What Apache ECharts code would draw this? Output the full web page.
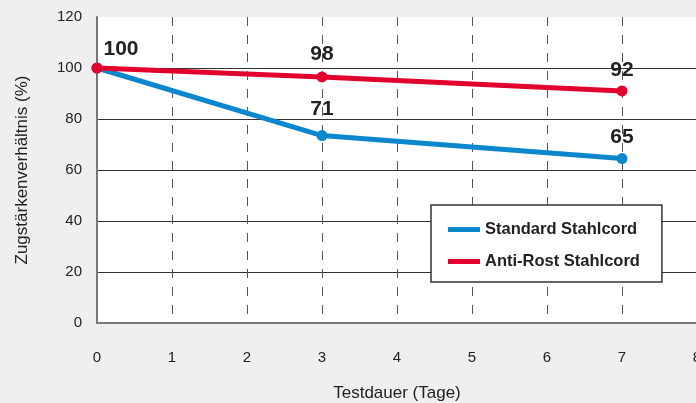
<!DOCTYPE html>
<html>
<head>
<meta charset="utf-8">
<script src="https://cdn.jsdelivr.net/npm/echarts@6/dist/echarts.min.js"></script>
<style>
  html, body { margin: 0; padding: 0; background: #efefef; }
  #main { width: 696px; height: 403px; }
</style>
</head>
<body>
<div id="main"></div>
<script>
const days = [0, 3, 7]
const standard = [100, 73.5, 64.5]
const antiRost = [100, 96.5, 91]
const standardLabels = ['', '71', '65']
const antiRostLabels = ['100', '98', '92']
const xTicks = [0, 1, 2, 3, 4, 5, 6, 7, 8]
const yTicks = [0, 20, 40, 60, 80, 100, 120]

function main() {
  var chart = echarts.init(document.getElementById('main'))

  const pts = (vals) => days.map((d, i) => [d, vals[i]])
  const labelStyle = {
    show: true,
    position: 'top',
    fontFamily: 'Liberation Sans',
    fontWeight: 'bold',
    fontSize: 21,
    color: '#222'
  }

  let option = {
    backgroundColor: '#efefef',
    animation: false,
    grid: {
      left: 97, top: 17, width: 600, height: 306,
      outerBoundsMode: 'none',
      containLabel: false,
      show: true, backgroundColor: '#fff', borderWidth: 0
    },
    xAxis: {
      type: 'value',
      min: xTicks[0], max: xTicks[xTicks.length - 1], interval: 1,
      name: 'Testdauer (Tage)',
      nameLocation: 'middle',
      nameGap: 62,
      nameTextStyle: { fontFamily: 'Liberation Sans', fontSize: 17, color: '#222' },
      axisLine: { lineStyle: { color: '#777', width: 2 } },
      axisTick: { show: false },
      axisLabel: { margin: 27, fontFamily: 'Liberation Sans', fontSize: 15, color: '#222' },
      splitLine: { show: true, lineStyle: { color: '#555', type: [9, 9], width: 1 } }
    },
    yAxis: {
      type: 'value',
      min: yTicks[0], max: yTicks[yTicks.length - 1], interval: 20,
      name: 'Zugstärkenverhältnis (%)',
      nameLocation: 'middle',
      nameGap: 66,
      nameTextStyle: { fontFamily: 'Liberation Sans', fontSize: 17, color: '#222' },
      axisLine: { show: true, lineStyle: { color: '#777', width: 2 } },
      axisTick: { show: false },
      axisLabel: { margin: 15, fontFamily: 'Liberation Sans', fontSize: 15, color: '#222' },
      splitLine: {
        show: true,
        lineStyle: { color: '#333', width: 1 },
        showMinLine: false,
        showMaxLine: false
      }
    },
    legend: {
      left: 431, top: 205,
      orient: 'vertical',
      padding: [16, 22, 12, 17],
      itemGap: 15,
      itemWidth: 32, itemHeight: 5,
      backgroundColor: '#fff',
      borderColor: '#333', borderWidth: 1.5, borderRadius: 0,
      icon: 'rect',
      textStyle: { fontFamily: 'Liberation Sans', fontWeight: 'bold', fontSize: 16.5, color: '#222' },
      data: ['Standard Stahlcord', 'Anti-Rost Stahlcord']
    },
    series: [
      {
        name: 'Standard Stahlcord',
        type: 'line',
        data: pts(standard),
        color: '#0a87cd',
        lineStyle: { width: 5 },
        symbol: 'circle', symbolSize: 11,
        label: { ...labelStyle, formatter: (p) => standardLabels[p.dataIndex], distance: 8 },
        labelLayout: (p) => p.dataIndex === 1 ? { dy: -2 } : { dy: 3 }
      },
      {
        name: 'Anti-Rost Stahlcord',
        type: 'line',
        data: pts(antiRost),
        color: '#e2012d',
        lineStyle: { width: 5 },
        symbol: 'circle', symbolSize: 11,
        label: {
          ...labelStyle,
          distance: 5,
          formatter: (p) => antiRostLabels[p.dataIndex]
        },
        labelLayout: (p) => p.dataIndex === 0 ? { dx: 24, dy: 2 } : (p.dataIndex === 1 ? { dy: -2 } : {})
      }
    ]
  }

  chart.setOption(option)
}

main()
</script>
</body>
</html>
